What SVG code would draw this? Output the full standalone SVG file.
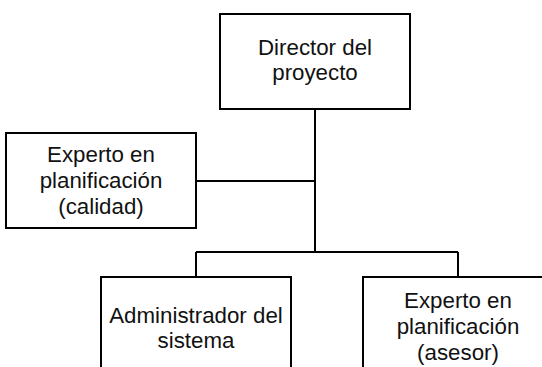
<svg xmlns="http://www.w3.org/2000/svg" width="542" height="367" viewBox="0 0 542 367">
<style>
.box{fill:#fff;stroke:#000;stroke-width:2}
.ln{stroke:#000;stroke-width:2;fill:none}
text{font-family:"Liberation Sans",Arial,sans-serif;font-size:22.3px;fill:#111;text-anchor:middle}
</style>
<rect width="542" height="367" fill="#fff"/>
<g id="connectors">
<path class="ln" d="M315 109V252M196 181H315M196 252H458M196 252V277M458 252V277"/>
</g>
<g id="director">
<rect class="box" x="220" y="14" width="190" height="95"/>
<text x="315" y="55">Director del</text>
<text x="315" y="80">proyecto</text>
</g>
<g id="calidad">
<rect class="box" x="6" y="133" width="190" height="95"/>
<text x="101" y="162">Experto en</text>
<text x="101" y="188">planificación</text>
<text x="101" y="214">(calidad)</text>
</g>
<g id="admin">
<rect class="box" x="101" y="277" width="190" height="100"/>
<text x="196" y="323">Administrador del</text>
<text x="196" y="348">sistema</text>
</g>
<g id="asesor">
<rect class="box" x="363" y="277" width="190" height="100"/>
<text x="458" y="308">Experto en</text>
<text x="458" y="334">planificación</text>
<text x="458" y="360">(asesor)</text>
</g>
</svg>
